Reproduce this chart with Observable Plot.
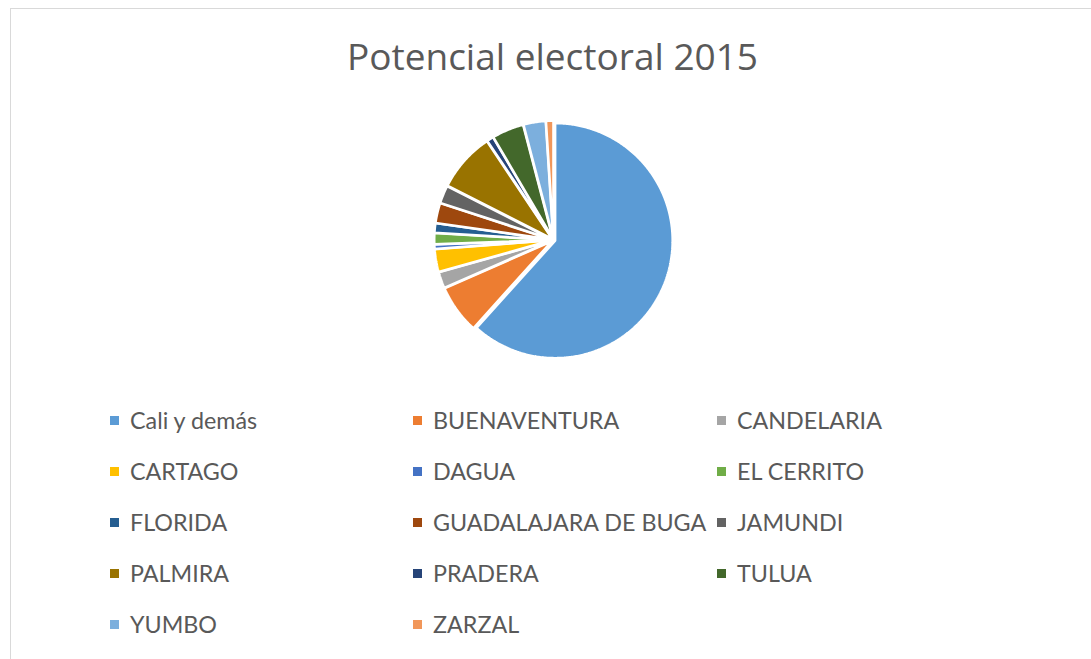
<!DOCTYPE html>
<html>
<head>
<meta charset="utf-8">
<script src="https://cdn.jsdelivr.net/npm/d3@7"></script>
<script src="https://cdn.jsdelivr.net/npm/@observablehq/plot@0.6"></script>
<style>
  html, body { margin: 0; padding: 0; background: #fff; }
  body { width: 1091px; height: 659px; position: relative; overflow: hidden; font-family: Lato, "Open Sans", sans-serif; color: #595959; }
  #frame { position: absolute; left: 10px; top: 8px; width: 1090px; height: 660px; border: 1px solid #d9d9d9; box-sizing: border-box; }
  #title { position: absolute; left: 0; width: 1105px; top: 30px; text-align: center; font-family: "Open Sans", sans-serif; font-size: 37px; color: #595959; }
  #pie { position: absolute; left: 0; top: 110px; }
  .lg { position: absolute; font-size: 23.3px; line-height: 23px; color: #595959; white-space: nowrap; }
  .sw { position: absolute; width: 9px; height: 9px; }
</style>
</head>
<body>
<div id="frame"></div>
<div id="title">Potencial electoral 2015</div>
<div id="pie"></div>
<div id="legend"></div>
<script>
const municipios = ["Cali y demás","BUENAVENTURA","CANDELARIA","CARTAGO","DAGUA","EL CERRITO","FLORIDA","GUADALAJARA DE BUGA","JAMUNDI","PALMIRA","PRADERA","TULUA","YUMBO","ZARZAL"];
const porcentaje = [60.5, 6.6, 2.2, 3.1, 0.6, 1.5, 1.3, 2.7, 2.4, 8.0, 0.9, 4.3, 3.0, 1.0];
const colores = ["#5B9BD5","#ED7D31","#A5A5A5","#FFC000","#4472C4","#70AD47","#255E91","#9E480E","#636363","#997300","#264478","#43682B","#7CAFDD","#F1975A"];

const data = municipios.map((name, i) => ({name, value: porcentaje[i]}));
const arcs = d3.pie().sort(null).value(d => d.value)(data);

// polygon points for each slice in unit-radius coordinates (slightly exploded slices)
const explode = 0.015;
const pts = [];
arcs.forEach(a => {
  const mid = (a.startAngle + a.endAngle) / 2;
  const ox = explode * Math.sin(mid), oy = explode * Math.cos(mid);
  pts.push({name: a.data.name, x: ox, y: oy});
  const n = Math.max(2, Math.ceil((a.endAngle - a.startAngle) / 0.01));
  for (let k = 0; k <= n; k++) {
    const t = a.startAngle + (a.endAngle - a.startAngle) * k / n;
    pts.push({name: a.data.name, x: ox + Math.sin(t), y: oy + Math.cos(t)});
  }
});

const R = 117.5, cx = 553, cy = 129.5;
const chart = Plot.plot({
  width: 1091,
  height: 262,
  margin: 0,
  x: {domain: [-1, 1], range: [cx - R, cx + R], axis: null},
  y: {domain: [-1, 1], range: [cy + R, cy - R], axis: null},
  color: {domain: municipios, range: colores},
  marks: [
    Plot.line(pts, {x: "x", y: "y", z: "name", fill: "name", stroke: "white", strokeWidth: 2.5, strokeLinejoin: "miter", curve: "linear-closed"})
  ]
});
document.getElementById("pie").appendChild(chart);

// legend
const legend = document.getElementById("legend");
const colX = [110, 413, 717];
const rowY = [420, 471, 522, 573, 624];
municipios.forEach((name, i) => {
  const c = i % 3, r = Math.floor(i / 3);
  const sw = document.createElement("div");
  sw.className = "sw";
  sw.style.left = colX[c] + "px";
  sw.style.top = (rowY[r] - 4.5) + "px";
  sw.style.background = chart.scale("color").apply(name);
  legend.appendChild(sw);
  const t = document.createElement("div");
  t.className = "lg";
  t.textContent = name;
  t.style.left = (colX[c] + 20) + "px";
  t.style.top = (rowY[r] - 11.5) + "px";
  legend.appendChild(t);
});
</script>
</body>
</html>
